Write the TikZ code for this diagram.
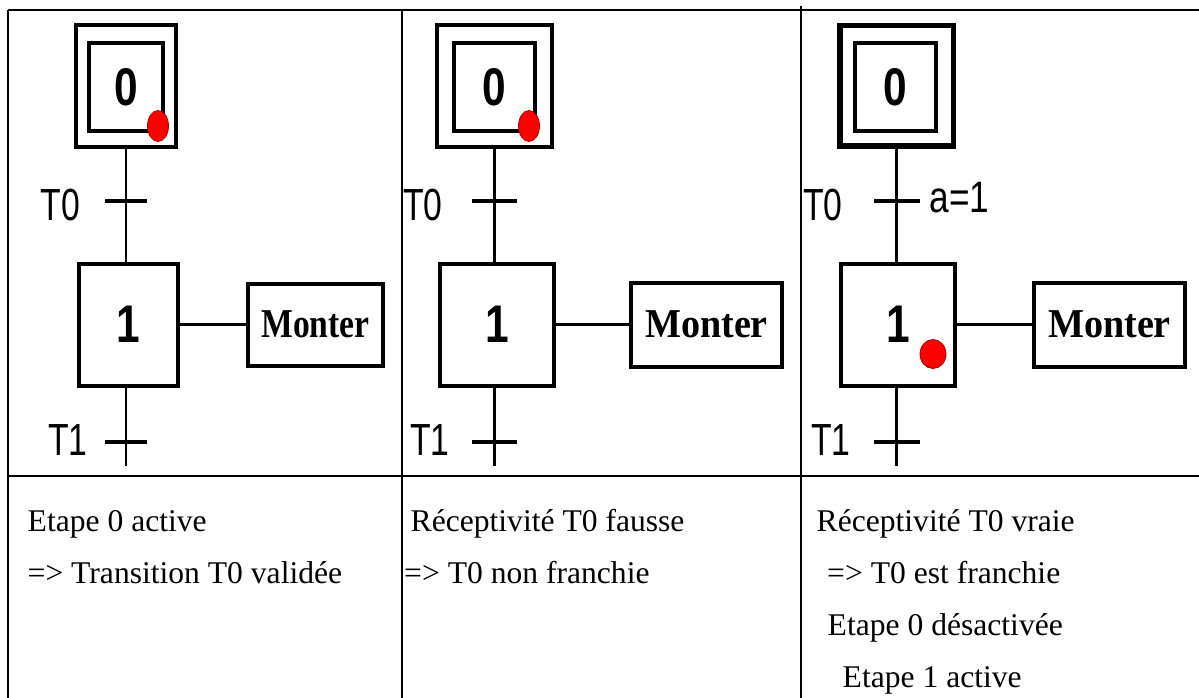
\documentclass[tikz,border=0pt]{standalone}
\usepackage{fontspec}
\setmainfont{Liberation Serif}
\newfontfamily\sansf{Liberation Sans}
\usetikzlibrary{shapes.geometric}

% step numbers, transition labels and action text (narrow, as in the GRAFCET sketch)
\newcommand\stepnum[1]{\scalebox{0.8}[1]{\sansf\bfseries\fontsize{53}{53}\selectfont #1}}
\newcommand\translab[1]{\scalebox{0.75}[1]{\sansf\fontsize{45}{45}\selectfont #1}}
\newcommand\condlab[1]{\scalebox{0.8}[1]{\sansf\fontsize{44}{44}\selectfont #1}}
\newcommand\actlab[2]{\scalebox{#1}[1]{\bfseries\fontsize{41}{41}\selectfont #2}}

\begin{document}
\begin{tikzpicture}[x=1pt,y=-1pt,
  stepbox/.style={draw, rectangle, line width=4pt, inner sep=0pt},
  actbox/.style={draw, rectangle, line width=4pt, inner sep=0pt},
  transbar/.style={fill=black, rectangle, inner sep=0pt, minimum width=42pt, minimum height=4pt},
  token/.style={shape=ellipse, fill=red, draw=red!65!black, line width=0.8pt, inner sep=0pt},
  link/.style={line width=2.5pt},
  wire/.style={line width=3pt},
  lab/.style={inner sep=0pt},
  note/.style={anchor=base west, inner sep=0pt, font=\fontsize{31.6}{38}\selectfont},
  grid/.style={line width=2pt}
]
\useasboundingbox (0,0) rectangle (1199,698);

% ---------- table ----------
\draw[grid] (8,10) -- (1199,10);
\draw[grid] (8,10) -- (8,698);
\draw[grid] (402,10) -- (402,698);
\draw[grid] (801,6) -- (801,698);
\draw[grid] (8,476) -- (1199,476);

% ---------- column 1 : step 0 active ----------
\node[stepbox, minimum width=100pt, minimum height=122pt] (a0o) at (126,86) {};
\node[stepbox, minimum width=74pt, minimum height=88pt] (a0i) at (126,87) {\stepnum{0}};
\node[token, minimum width=21pt, minimum height=31pt] (a0d) at (158,126) {};
\node[transbar] (at0) at (126,201) {};
\node[stepbox, minimum width=99pt, minimum height=122pt] (a1) at (128.5,324.5) {\stepnum{1}};
\node[actbox, minimum width=135pt, minimum height=82pt] (am) at (315.5,324.5) {\actlab{0.82}{Monter}};
\node[transbar] (at1) at (126,442) {};
\coordinate (aend) at (126,466);
\node[lab] (al0) at (60.5,205.5) {\translab{T0}};
\node[lab] (al1) at (68,440) {\translab{T1}};
\draw[link] (a0o.south) -- (a0o.south |- a1.north);
\draw[link] (a1.south -| aend) -- (aend);
\draw[wire] (a1.east) -- (am.west);

% ---------- column 2 : receptivity false ----------
\node[stepbox, minimum width=115pt, minimum height=122pt] (b0o) at (494.5,86) {};
\node[stepbox, minimum width=81pt, minimum height=88pt] (b0i) at (494.5,87) {\stepnum{0}};
\node[token, minimum width=21pt, minimum height=31pt] (b0d) at (529,126) {};
\node[transbar, minimum width=45pt] (bt0) at (494.5,201) {};
\node[stepbox, minimum width=114pt, minimum height=122pt] (b1) at (497,324.5) {\stepnum{1}};
\node[actbox, minimum width=151pt, minimum height=84pt] (bm) at (706.5,324.5) {\actlab{0.93}{Monter}};
\node[transbar, minimum width=45pt] (bt1) at (494.5,442) {};
\coordinate (bend) at (494.5,466);
\node[lab] (bl0) at (423,205.5) {\translab{T0}};
\node[lab] (bl1) at (430,440) {\translab{T1}};
\draw[link] (b0o.south) -- (b0o.south |- b1.north);
\draw[link] (b1.south -| bend) -- (bend);
\draw[wire] (b1.east) -- (bm.west);

% ---------- column 3 : receptivity true, T0 fired ----------
\node[stepbox, line width=5.5pt, minimum width=113.5pt, minimum height=120.5pt] (c0o) at (896.5,86) {};
\node[stepbox, minimum width=81pt, minimum height=88pt] (c0i) at (895.5,87) {\stepnum{0}};
\node[transbar, minimum width=46pt] (ct0) at (896.5,201) {};
\node[stepbox, minimum width=114pt, minimum height=122pt] (c1) at (898,324.5) {\stepnum{1}};
\node[token, minimum width=26pt, minimum height=29pt] (c1d) at (933,354) {};
\node[actbox, minimum width=151pt, minimum height=84pt] (cm) at (1109.5,324.5) {\actlab{0.93}{Monter}};
\node[transbar, minimum width=46pt] (ct1) at (896.5,442) {};
\coordinate (cend) at (896.5,466);
\node[lab] (cl0) at (823,205.5) {\translab{T0}};
\node[lab] (cc0) at (959.5,198) {\condlab{a=1}};
\node[lab] (cl1) at (831,440) {\translab{T1}};
\draw[link] (c0o.south) -- (c0o.south |- c1.north);
\draw[link] (c1.south -| cend) -- (cend);
\draw[wire] (c1.east) -- (cm.west);

% ---------- explanations ----------
\node[note] (n1a) at (27.5,531) {Etape 0 active};
\node[note] (n1b) at (27.5,583) {=> Transition T0 validée};
\node[note] (n2a) at (410.5,531) {Réceptivité T0 fausse};
\node[note] (n2b) at (404,583) {=> T0 non franchie};
\node[note] (n3a) at (816.5,531) {Réceptivité T0 vraie};
\node[note] (n3b) at (827,583) {=> T0 est franchie};
\node[note] (n3c) at (827.5,635) {Etape 0 désactivée};
\node[note] (n3d) at (842.5,687) {Etape 1 active};
\end{tikzpicture}
\end{document}
